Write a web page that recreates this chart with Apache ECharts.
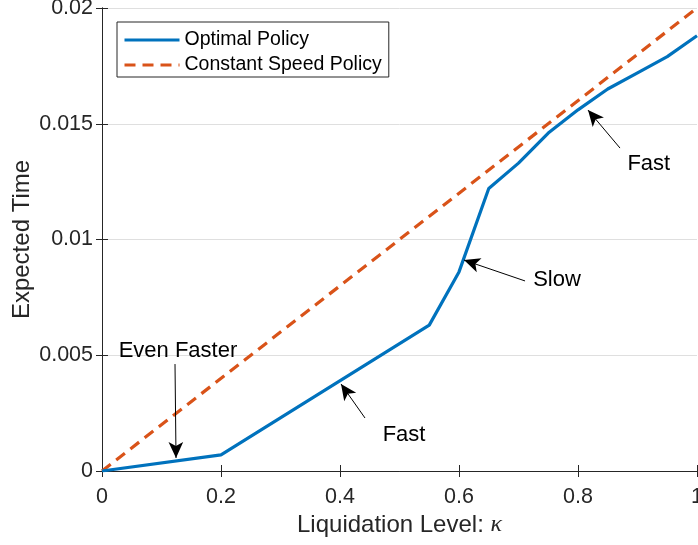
<!DOCTYPE html>
<html>
<head>
<meta charset="utf-8">
<script src="https://cdn.jsdelivr.net/npm/echarts@6/dist/echarts.min.js"></script>
<style>html,body{margin:0;padding:0;background:#fff;}#c{width:698px;height:545px;}</style>
</head>
<body>
<div id="c"></div>
<script>
// Data
var kappa = [0, 0.2, 0.55, 0.6, 0.65, 0.7, 0.75, 0.8, 0.85, 0.9, 0.95, 1.0];
var optimal = [0, 0.0007, 0.0063, 0.0086, 0.0122, 0.0133, 0.0146, 0.0156, 0.0165, 0.0172, 0.0179, 0.0188];
var constKappa = [0, 1];
var constSpeed = [0, 0.02];
var xTicks = [0, 0.2, 0.4, 0.6, 0.8, 1];
var yTicks = [0, 0.005, 0.01, 0.015, 0.02];
// annotations: [text, textX, textY, tailX, tailY, tipX, tipY]
var notes = [
  ['Even Faster', 0.1277, 0.00518, 0.1227, 0.00462, 0.1244, 0.00056],
  ['Fast', 0.5076, 0.00155, 0.442, 0.00229, 0.4017, 0.00376],
  ['Slow', 0.7647, 0.00825, 0.711, 0.00821, 0.6084, 0.00911],
  ['Fast', 0.919, 0.01326, 0.8706, 0.01395, 0.8168, 0.01559]
];

var FONT = 'Liberation Sans';
var AX = '#262626';
var chart = echarts.init(document.getElementById('c'), null, {renderer: 'canvas'});

function pairs(xs, ys) { return xs.map(function (x, i) { return [x, ys[i]]; }); }

var axisCommon = {
  type: 'value',
  axisLine: {show: true, lineStyle: {color: AX, width: 1}},
  axisTick: {show: true, inside: true, length: 6, lineStyle: {color: AX}},
  axisLabel: {show: false},
  splitLine: {show: false}
};

var option = {
  animation: false,
  backgroundColor: '#fff',
  textStyle: {fontFamily: FONT},
  grid: {left: 102, top: 8, right: 1, bottom: 74, containLabel: false, outerBoundsMode: 'none'},
  legend: {
    orient: 'vertical',
    left: 117, top: 22,
    padding: [7, 7, 1, 6],
    itemGap: 3,
    itemWidth: 55, itemHeight: 14,
    borderColor: AX, borderWidth: 1, borderRadius: 0,
    backgroundColor: '#fff',
    itemStyle: {opacity: 0},
    lineStyle: {width: 3},
    textStyle: {fontFamily: FONT, fontSize: 19.5, color: '#000', lineHeight: 22},
    data: ['Optimal Policy', 'Constant Speed Policy']
  },
  xAxis: [
    Object.assign({}, axisCommon, {
      min: 0, max: 1, interval: 0.2,
      position: 'bottom',
      name: 'Liquidation Level: {k|κ}',
      nameLocation: 'middle', nameGap: 41,
      nameTextStyle: {fontFamily: FONT, fontSize: 24, color: '#262626',
        rich: {k: {fontFamily: 'Liberation Serif', fontStyle: 'italic', fontSize: 24, color: '#262626'}}},
      axisLabel: {show: true, margin: 15, fontSize: 21.5, color: '#262626', fontFamily: FONT,
        formatter: function (v) { return xTicks.indexOf(+v.toFixed(4)) >= 0 ? String(+v.toFixed(4)) : ''; }}
    }),
    Object.assign({}, axisCommon, {min: 0, max: 1, interval: 0.2, position: 'top'})
  ],
  yAxis: [
    Object.assign({}, axisCommon, {
      min: 0, max: 0.02, interval: 0.005,
      position: 'left',
      name: 'Expected Time',
      nameLocation: 'middle', nameGap: 68, nameMoveOverlap: false,
      nameTextStyle: {fontFamily: FONT, fontSize: 24, color: '#262626'},
      axisLabel: {show: true, margin: 9, fontSize: 21.5, color: '#262626', fontFamily: FONT,
        formatter: function (v) { return yTicks.indexOf(+v.toFixed(4)) >= 0 ? String(+v.toFixed(4)) : ''; }},
      splitLine: {show: true, lineStyle: {color: '#dfdfdf', width: 1}}
    }),
    Object.assign({}, axisCommon, {min: 0, max: 0.02, interval: 0.005, position: 'right'})
  ],
  series: [
    {
      name: 'Optimal Policy', type: 'line', symbol: 'none',
      data: pairs(kappa, optimal),
      lineStyle: {color: '#0072BD', width: 3.2},
      itemStyle: {color: '#0072BD'},
      z: 3
    },
    {
      name: 'Constant Speed Policy', type: 'line', symbol: 'none',
      data: pairs(constKappa, constSpeed),
      lineStyle: {color: '#D95319', width: 3.2, type: [11, 7]},
      itemStyle: {color: '#D95319'},
      z: 2
    },
    {
      name: 'notes', type: 'line', data: [], symbol: 'none', z: 5,
      silent: true,
      markLine: {
        silent: true, animation: false,
        symbol: ['none', 'arrow'], symbolSize: [11, 16],
        lineStyle: {color: '#000', width: 1, type: 'solid'},
        label: {show: false},
        emphasis: {disabled: true},
        data: notes.map(function (n) {
          return [{coord: [n[3], n[4]]}, {coord: [n[5], n[6]]}];
        })
      },
      markPoint: {
        silent: true, animation: false,
        symbol: 'circle', symbolSize: 0,
        label: {show: true, position: 'inside', fontFamily: FONT, fontSize: 22, color: '#000',
          formatter: function (p) { return p.name; }},
        data: notes.map(function (n) {
          return {name: n[0], coord: [n[1], n[2]]};
        })
      }
    }
  ]
};
chart.setOption(option);
</script>
</body>
</html>
